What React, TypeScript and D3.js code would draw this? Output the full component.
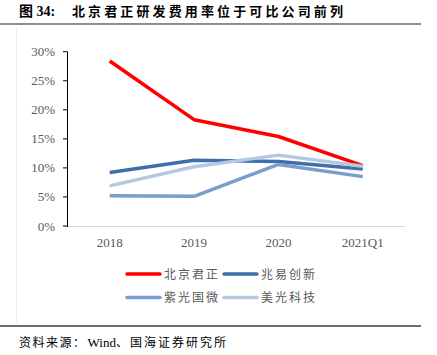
import React from "react";
import * as d3 from "d3";

const categories = ["2018", "2019", "2020", "2021Q1"];
const seriesNames = ["北京君正", "兆易创新", "紫光国微", "美光科技"];
const junzheng = [28.4, 18.3, 15.4, 10.4];
const zhaoyi = [9.2, 11.3, 11.1, 9.8];
const ziguang = [5.2, 5.1, 10.6, 8.5];
const meiguang = [6.9, 10.2, 12.2, 10.3];
const yTicks = [0, 5, 10, 15, 20, 25, 30];
const titlePrefix = "图 34:";
const titleText = "北京君正研发费用率位于可比公司前列";
const sourceParts = ["资料来源：", "Wind", "、国海证券研究所"];

const colors = ["#FF0000", "#3E6EAB", "#7B9DCB", "#B5C7E2"];
const seriesData = [junzheng, zhaoyi, ziguang, meiguang];

const FONT = "'Liberation Serif', 'Times New Roman', 'Noto Sans CJK SC', serif";
const CJK = "'Noto Sans CJK SC', 'Liberation Serif', serif";

export default function App() {
  const W = 437, H = 355;
  const x = d3.scaleBand().domain(categories).range([67.5, 405]);
  const y = d3.scaleLinear().domain([0, 30]).range([226, 51.7]);
  const line = d3
    .line<number>()
    .x((_, i) => (x(categories[i]) as number) + x.bandwidth() / 2)
    .y((d) => y(d));

  const legendPos = [
    { lx: 127, ly: 274 },
    { lx: 224, ly: 274 },
    { lx: 127, ly: 297.5 },
    { lx: 224, ly: 297.5 },
  ];

  return (
    <svg
      width={W}
      height={H}
      style={{ position: "absolute", left: 0, top: 0, background: "#fff" }}
    >
      {/* title */}
      <text x={19} y={16} fontFamily={FONT} fontWeight="bold" fontSize={14} fill="#000">
        {titlePrefix}
      </text>
      <text
        x={72}
        y={16}
        fontFamily={CJK}
        fontWeight="bold"
        fontSize={13}
        fill="#000"
        textLength={271}
        lengthAdjust="spacing"
      >
        {titleText}
      </text>
      <line x1={0} x2={421} y1={24} y2={24} stroke="#8c8c8c" strokeWidth={2} />
      <line x1={16.5} x2={16.5} y1={27} y2={324} stroke="#f0f0f0" strokeWidth={1} />

      {/* axes */}
      <line x1={67} x2={405} y1={226.5} y2={226.5} stroke="#d9d9d9" strokeWidth={1} />
      <line x1={67.5} x2={67.5} y1={y(30)} y2={227} stroke="#000" strokeWidth={1} />
      {yTicks.map((t) => (
        <g key={t}>
          <line x1={63} x2={67.5} y1={y(t)} y2={y(t)} stroke="#000" strokeWidth={1} />
          <text
            x={55}
            y={y(t) + 4.5}
            textAnchor="end"
            fontFamily={FONT}
            fontSize={13}
            fill="#595959"
          >
            {t}%
          </text>
        </g>
      ))}
      {categories.map((c) => (
        <text
          key={c}
          x={(x(c) as number) + x.bandwidth() / 2}
          y={247}
          textAnchor="middle"
          fontFamily={FONT}
          fontSize={13}
          fill="#595959"
        >
          {c}
        </text>
      ))}

      {/* lines */}
      {seriesData.map((s, i) => (
        <path
          key={seriesNames[i]}
          d={line(s) as string}
          fill="none"
          stroke={colors[i]}
          strokeWidth={3.5}
          strokeLinejoin="round"
        />
      ))}

      {/* legend */}
      {seriesNames.map((n, i) => (
        <g key={n}>
          <line
            x1={legendPos[i].lx}
            x2={legendPos[i].lx + 33}
            y1={legendPos[i].ly}
            y2={legendPos[i].ly}
            stroke={colors[i]}
            strokeWidth={3.5}
            strokeLinecap="round"
          />
          <text
            x={legendPos[i].lx + 37}
            y={legendPos[i].ly + 4.5}
            fontFamily={CJK}
            fontSize={12}
            fill="#595959"
            textLength={54}
            lengthAdjust="spacing"
          >
            {n}
          </text>
        </g>
      ))}

      {/* source */}
      <line x1={0} x2={421} y1={326} y2={326} stroke="#404040" strokeWidth={1.5} />
      <text x={19} y={347} fontSize={12} fill="#000">
        <tspan fontFamily={CJK} letterSpacing={1.5}>{sourceParts[0]}</tspan>
        <tspan fontFamily={FONT} fontSize={13} dx={1}>{sourceParts[1]}</tspan>
        <tspan fontFamily={CJK} letterSpacing={2}>{sourceParts[2]}</tspan>
      </text>
    </svg>
  );
}
